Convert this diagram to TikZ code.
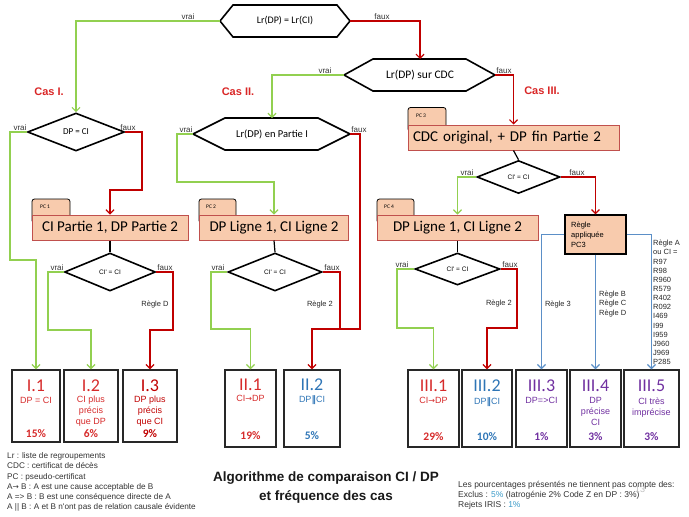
\documentclass[tikz,border=0pt]{standalone}
\usepackage{fontspec}
\setmainfont{Carlito}
\newfontfamily\arial{Liberation Sans}
\newfontfamily\dejavu{DejaVu Sans}
\usetikzlibrary{arrows.meta,shapes.geometric}
\definecolor{peach}{HTML}{F8CBAD}
\definecolor{boxedge}{HTML}{C0504D}
\definecolor{lgreen}{HTML}{92D050}
\definecolor{dred}{HTML}{C00000}
\definecolor{lblue}{HTML}{5B8FC7}
\definecolor{casred}{HTML}{D92626}
\definecolor{resred}{HTML}{D62B2B}
\definecolor{resblue}{HTML}{2E75B6}
\definecolor{respurple}{HTML}{7030A0}
\definecolor{txtgray}{HTML}{333333}
\definecolor{noteblue}{HTML}{3A9AC8}
\definecolor{resedge}{HTML}{282828}
\begin{document}
\begin{tikzpicture}[x=1pt,y=-1pt,
  shp/.style={draw=black,line width=1.6pt,line join=miter},
  dia/.style={diamond,shp,inner sep=0pt,font=\arial\fontsize{6.5}{8}\selectfont},
  htxt/.style={inner sep=0pt},
  link/.style={line width=1.2pt},
  conn/.style={link,-{Straight Barb[length=4pt,width=8pt]}},
  yes/.style={conn,lgreen},
  no/.style={conn,dred},
  noline/.style={link,dred},
  rul/.style={conn,lblue},
  pcbox/.style={rectangle,fill=peach,draw=boxedge,line width=1pt,inner sep=0pt,minimum height=25pt,font=\fontsize{15}{18}\selectfont},
  tabbox/.style={rectangle,rounded corners=2.5pt,fill=peach,draw=black,line width=0.8pt,minimum height=24pt,inner sep=0pt},
  tabtxt/.style={inner sep=0pt,anchor=west,font=\fontsize{5.5}{6}\selectfont},
  res/.style={rectangle,draw=resedge,line width=1.5pt,inner sep=0pt},
  vf/.style={font=\arial\fontsize{8}{9}\selectfont,inner sep=0.8pt,anchor=south,text=txtgray},
  rl/.style={font=\arial\fontsize{7.5}{9.15}\selectfont,inner sep=0pt,text=black!85},
  big/.style={font=\fontsize{18}{20}\selectfont,inner sep=0pt},
  sub/.style={font=\arial\fontsize{9}{11}\selectfont,inner sep=0pt,align=center,anchor=north},
  pct/.style={font=\bfseries\fontsize{11.5}{13}\selectfont,inner sep=0pt},
  cas/.style={font=\arial\bfseries\fontsize{11}{13}\selectfont,text=casred,inner sep=0pt},
  leg/.style={font=\arial\fontsize{8.2}{10.2}\selectfont,inner sep=0pt,align=left,text=txtgray},
]
\useasboundingbox (0,0) rectangle (689,517);

% ---------- hexagons ----------
\draw[shp] (220,21) coordinate (h1w) -- (233,5) -- (337,5) -- (350,21) coordinate (h1e) -- (337,37) -- (233,37) -- cycle;
\node[htxt,font=\fontsize{10}{12}\selectfont] (h1) at (285,21) {Lr(DP) = Lr(CI)};
\draw[shp] (344,75) coordinate (h2w) -- (373,59) -- (466,59) -- (495,75) coordinate (h2e) -- (466,91) -- (373,91) -- cycle;
\coordinate (h2n) at (420,59);
\node[htxt,font=\fontsize{11.5}{13}\selectfont] (h2) at (420,75) {Lr(DP) sur CDC};
\draw[shp] (193,134) coordinate (h3w) -- (225,118) -- (318,118) -- (350,134) coordinate (h3e) -- (318,150) -- (225,150) -- cycle;
\coordinate (h3n) at (272,118);
\node[htxt,font=\fontsize{10.5}{12}\selectfont] (h3) at (272,134) {Lr(DP) en Partie I};

% ---------- diamonds ----------
\node[dia,minimum width=97pt,minimum height=38pt,font=\fontsize{9}{10}\selectfont] (d1) at (76,132) {DP = CI};
\node[dia,minimum width=91pt,minimum height=38pt] (d2) at (110,272) {CI' = CI};
\node[dia,minimum width=94pt,minimum height=38pt] (d3) at (275,272) {CI' = CI};
\node[dia,minimum width=83pt,minimum height=33pt] (d4) at (518.5,177) {CI' = CI};
\node[dia,minimum width=85pt,minimum height=32pt] (d5) at (457.5,269) {CI' = CI};

% ---------- PC boxes ----------
\node[tabbox,minimum width=38pt] (t1) at (51,211) {};
\node[tabtxt] (t1t) at (40,207) {PC 1};
\node[pcbox,minimum width=156pt] (b1) at (110,227.5) {CI Partie 1, DP Partie 2};
\node[tabbox,minimum width=37pt] (t2) at (217.5,211) {};
\node[tabtxt] (t2t) at (206,207) {PC 2};
\node[pcbox,minimum width=149pt] (b2) at (274,227.5) {DP Ligne 1, CI Ligne 2};
\node[tabbox,minimum width=38pt] (t3) at (427,119.5) {};
\node[tabtxt] (t3t) at (416,115.5) {PC 3};
\node[pcbox,minimum width=211pt,text width=201pt,align=left] (b3) at (513.5,137.5) {CDC original, + DP fin Partie 2};
\node[tabbox,minimum width=37pt] (t4) at (395.5,211) {};
\node[tabtxt] (t4t) at (384,207) {PC 4};
\node[pcbox,minimum width=161pt] (b4) at (457.5,227.5) {DP Ligne 1, CI Ligne 2};
\node[rectangle,fill=peach,draw=black,line width=1.3pt,minimum width=61pt,minimum height=39pt,inner sep=0pt] (rb) at (595.5,234.5) {};
\node[inner sep=0pt,anchor=west,align=left,font=\arial\fontsize{7.5}{10}\selectfont] (rbt) at (571,235) {Règle\\appliquée\\PC3};

% ---------- result boxes ----------
\node[res,minimum width=48pt,minimum height=72pt] (r11) at (36,406) {};
\node[res,minimum width=54pt,minimum height=72pt] (r12) at (91,406) {};
\node[res,minimum width=54pt,minimum height=72pt] (r13) at (150,406) {};
\node[res,minimum width=51pt,minimum height=77pt] (r21) at (250.5,408.5) {};
\node[res,minimum width=56pt,minimum height=77pt] (r22) at (312,408.5) {};
\node[res,minimum width=51pt,minimum height=77pt] (r31) at (433.5,408.5) {};
\node[res,minimum width=50pt,minimum height=77pt] (r32) at (487,408.5) {};
\node[res,minimum width=51pt,minimum height=77pt] (r33) at (541.5,408.5) {};
\node[res,minimum width=51pt,minimum height=77pt] (r34) at (595.5,408.5) {};
\node[res,minimum width=55pt,minimum height=77pt] (r35) at (651.5,408.5) {};

% contents
\node[big,text=resred] (r11a) at (36,386) {I.1};
\node[sub,text=resred] (r11b) at (36,397) {DP = CI};
\node[pct,text=resred] (r11c) at (36,434) {15\%};
\node[big,text=resred] (r12a) at (91,386) {I.2};
\node[sub,text=resred] (r12b) at (91,396) {CI plus\\précis\\que DP};
\node[pct,text=resred] (r12c) at (91,434) {6\%};
\node[big,text=dred] (r13a) at (150,386) {I.3};
\node[sub,text=dred] (r13b) at (150,396) {DP plus\\précis\\que CI};
\node[pct,text=dred] (r13c) at (150,434) {9\%};
\node[big,text=resred] (r21a) at (250.5,385) {II.1};
\node[sub,text=resred] (r21b) at (250.5,395) {CI{\dejavu\fontsize{8}{10}\selectfont →}DP};
\node[pct,text=resred] (r21c) at (250.5,436) {19\%};
\node[big,text=resblue] (r22a) at (312,385) {II.2};
\node[sub,text=resblue] (r22b) at (312,395) {DP{\dejavu\bfseries ‖}CI};
\node[pct,text=resblue] (r22c) at (312,436) {5\%};
\node[big,text=resred] (r31a) at (433.5,386) {III.1};
\node[sub,text=resred] (r31b) at (433.5,397) {CI{\dejavu\fontsize{8}{10}\selectfont →}DP};
\node[pct,text=resred] (r31c) at (433.5,437) {29\%};
\node[big,text=resblue] (r32a) at (487,386) {III.2};
\node[sub,text=resblue] (r32b) at (487,397) {DP{\dejavu\bfseries ‖}CI};
\node[pct,text=resblue] (r32c) at (487,437) {10\%};
\node[big,text=respurple] (r33a) at (541.5,386) {III.3};
\node[sub,text=respurple] (r33b) at (541.5,397) {DP=>CI};
\node[pct,text=respurple] (r33c) at (541.5,437) {1\%};
\node[big,text=respurple] (r34a) at (595.5,386) {III.4};
\node[sub,text=respurple] (r34b) at (595.5,397.5) {DP\\précise\\CI};
\node[pct,text=respurple] (r34c) at (595.5,437) {3\%};
\node[big,text=respurple] (r35a) at (651.5,386) {III.5};
\node[sub,text=respurple] (r35b) at (651.5,397.5) {CI très\\imprécise};
\node[pct,text=respurple] (r35c) at (651.5,437) {3\%};

% ---------- connectors ----------
\draw[yes] (h1w) -| (d1.north);
\draw[no] (h1e) -| (h2n);
\draw[yes] (h2w) -| (h3n);
\draw[no] (h2e) -| (b3.north);
\draw[yes] (d1.west) -| (10,260) -| (r11.north);
\draw[no] (d1.east) -| (142,190) -| (b1.north);
\draw[link] (b1.south) -- (d2.north);
\draw[yes] (d2.west) -| (48,330) -| (r12.north);
\draw[no] (d2.east) -| (173,330) -| (r13.north);
\draw[yes] (h3w) -| (177,182) -| (b2.north);
\draw[no] (h3e) -| (360,329) -| (r22.north);
\draw[noline] (d3.east) -| (340,329);
\draw[link] (b2.south) -- (d3.north);
\draw[yes] (d3.west) -| (211,329) -| (r21.north);
\draw[link] (b3.south) -- (d4.north);
\draw[yes] (d4.west) -| (b4.north);
\draw[no] (d4.east) -| (rb.north);
\draw[rul] (rb.west) -| (r33.north);
\draw[rul] (rb.south) -- (r34.north);
\draw[rul] (rb.east) -| (r35.north);
\draw[link] (b4.south) -- (d5.north);
\draw[yes] (d5.west) -| (397,328) -| (r31.north);
\draw[no] (d5.east) -| (517,328) -| (r32.north);

% ---------- vrai / faux ----------
\node[vf] (l1) at (188,21) {vrai};
\node[vf] (l2) at (382,21) {faux};
\node[vf] (l3) at (325,75) {vrai};
\node[vf] (l4) at (504,75) {faux};
\node[vf] (l5) at (186,134) {vrai};
\node[vf] (l6) at (359,134) {faux};
\node[vf] (l7) at (20,132) {vrai};
\node[vf] (l8) at (128,132) {faux};
\node[vf] (l9) at (57,272) {vrai};
\node[vf] (l10) at (165,272) {faux};
\node[vf] (l11) at (218,272) {vrai};
\node[vf] (l12) at (332,272) {faux};
\node[vf] (l13) at (467,177) {vrai};
\node[vf] (l14) at (577,177) {faux};
\node[vf] (l15) at (402,269) {vrai};
\node[vf] (l16) at (510,269) {faux};

% ---------- rule labels ----------
\node[rl] (g1) at (155,305) {Règle D};
\node[rl] (g2) at (320,305) {Règle 2};
\node[rl] (g3) at (499,304) {Règle 2};
\node[rl] (g4) at (558,305) {Règle 3};
\node[rl,anchor=west,align=left] (g5) at (599,304) {Règle B\\Règle C\\Règle D};
\node[rl,anchor=west,align=left] (g6) at (653,302.5) {Règle A\\ou CI =\\R97\\R98\\R960\\R579\\R402\\R092\\I469\\I99\\I959\\J960\\J969\\P285};

% ---------- Cas labels ----------
\node[cas] (c1) at (49,92) {Cas I.};
\node[cas] (c2) at (238,92) {Cas II.};
\node[cas] (c3) at (542,91) {Cas III.};

% ---------- legend & title ----------
\node[leg,anchor=north west] (leg) at (7,452.5) {Lr : liste de regroupements\\CDC : certificat de décès\\PC : pseudo-certificat\\A{\dejavu\fontsize{7.5}{8}\selectfont →} B : A est une cause acceptable de B\\A => B : B est une conséquence directe de A\\A || B : A et B n'ont pas de relation causale évidente};
\node[inner sep=0pt,align=center,font=\arial\bfseries\fontsize{13.5}{19}\selectfont,text=black!90] (title) at (326,488) {Algorithme de comparaison CI / DP\\et fréquence des cas};
\node[leg,anchor=north west,font=\arial\fontsize{8.5}{10}\selectfont] (note) at (458,481.5) {Les pourcentages présentés ne tiennent pas compte des:\\Exclus : \textcolor{noteblue}{5\%} (Iatrogénie 2\% Code Z en DP : 3\%)\\Rejets IRIS : \textcolor{noteblue}{1\%}};
\node[inner sep=0pt,font=\arial\fontsize{9}{10}\selectfont,text=black!25] (pg) at (640,489) {13};
\end{tikzpicture}
\end{document}
